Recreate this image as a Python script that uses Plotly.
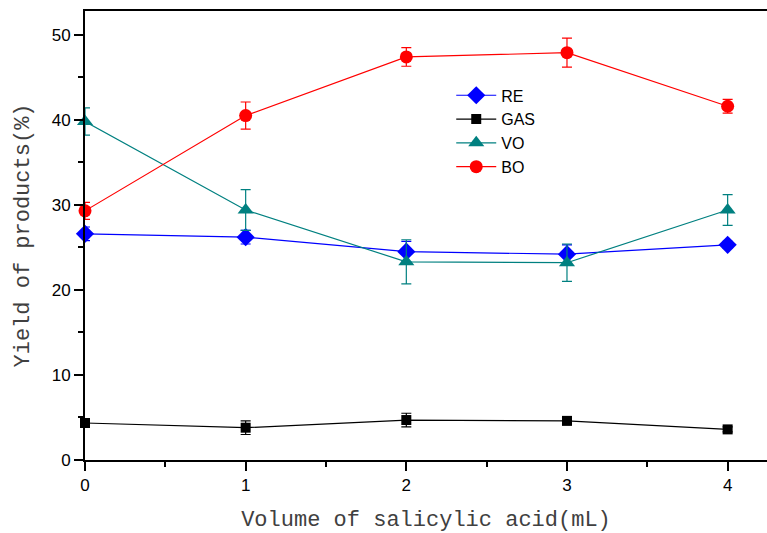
import plotly.graph_objects as go

volume = [0, 1, 2, 3, 4]
re_vals = [26.6, 26.2, 24.5, 24.2, 25.3]
re_err = [0.8, 0.8, 1.2, 1.1, 0.4]
gas_vals = [4.35, 3.8, 4.7, 4.6, 3.6]
gas_err = [0.5, 0.8, 0.8, 0.4, 0.3]
vo_vals = [39.8, 29.4, 23.3, 23.2, 29.4]
vo_err = [1.6, 2.4, 2.6, 2.2, 1.8]
bo_vals = [29.3, 40.5, 47.4, 47.9, 41.6]
bo_err = [1.0, 1.6, 1.1, 1.7, 0.8]

series = [
    ("RE", re_vals, re_err, "#0000ff", "diamond", 14),
    ("GAS", gas_vals, gas_err, "#000000", "square", 10),
    ("VO", vo_vals, vo_err, "#008080", "triangle-up", 14),
    ("BO", bo_vals, bo_err, "#ff0000", "circle", 13),
]

fig = go.Figure()
for name, vals, err, color, sym, size in series:
    fig.add_trace(go.Scatter(
        x=volume, y=vals, name=name, mode="lines+markers",
        line=dict(color=color, width=1.2),
        marker=dict(symbol=sym, size=size, color=color),
        error_y=dict(type="data", array=err, visible=True, color=color, thickness=1.2, width=5),
        cliponaxis=False,
    ))

fig.update_layout(
    width=767, height=533,
    margin=dict(l=85, r=0, t=11, b=73),
    paper_bgcolor="white", plot_bgcolor="white",
    showlegend=True,
    legend=dict(x=0.537, y=0.85, xanchor="left", yanchor="top",
                font=dict(family="Liberation Sans, Arial", size=16, color="#000"),
                bgcolor="rgba(0,0,0,0)", tracegroupgap=0, itemwidth=40),
    xaxis=dict(range=[0, 4.245], tickvals=[0, 1, 2, 3, 4], showline=True, linecolor="black",
               linewidth=2, mirror=True, ticks="outside", ticklen=9, tickwidth=2, tickcolor="black",
               minor=dict(dtick=0.5, ticks="outside", ticklen=5, tickwidth=2, tickcolor="black"),
               showgrid=False, zeroline=False,
               tickfont=dict(family="Liberation Sans, Arial", size=17, color="#000"),
               title=dict(text="Volume of salicylic acid(mL)",
                          font=dict(family="Liberation Mono, monospace", size=22, color="#404040"),
                          standoff=20)),
    yaxis=dict(range=[0, 52.8], tickvals=[0, 10, 20, 30, 40, 50], showline=True, linecolor="black",
               linewidth=2, mirror=False, ticks="outside", ticklen=9, tickwidth=2, tickcolor="black",
               minor=dict(dtick=5, ticks="outside", ticklen=5, tickwidth=2, tickcolor="black"),
               showgrid=False, zeroline=False,
               tickfont=dict(family="Liberation Sans, Arial", size=17, color="#000"),
               title=dict(text="Yield of products(%)",
                          font=dict(family="Liberation Mono, monospace", size=22, color="#404040"),
                          standoff=16)),
)

fig.write_html("out.html")
